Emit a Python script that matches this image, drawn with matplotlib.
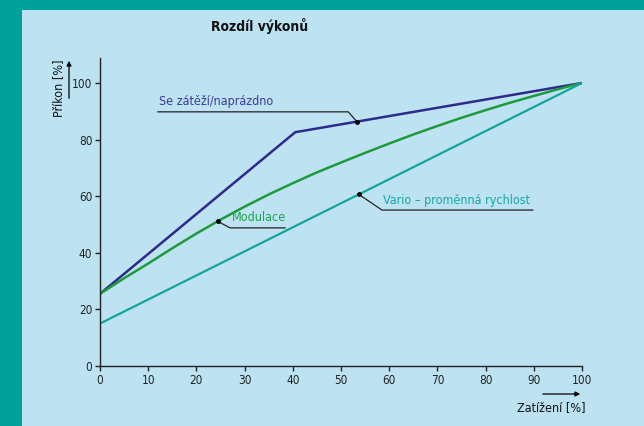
import matplotlib
matplotlib.use('Agg')
import matplotlib.pyplot as plt
import numpy as np
from matplotlib.patches import Rectangle

plt.rcParams['font.family'] = ['DejaVu Sans']
plt.rcParams['font.stretch'] = 'condensed'

# data
load = [0, 5, 10, 15, 20, 25, 30, 35, 40, 45, 50,
        55, 60, 65, 70, 75, 80, 85, 90, 95, 100]
x_ticks = [0, 10, 20, 30, 40, 50, 60, 70, 80, 90, 100]
y_ticks = [0, 20, 40, 60, 80, 100]

onoff_x = [0, 40.5, 100]
onoff_y = [25.5, 82.6, 100]
modul_y = [25.5, 31.0, 36.2, 41.6, 46.8, 51.7, 56.3, 60.6, 64.6, 68.4, 71.9,
           75.3, 78.6, 81.8, 84.8, 87.7, 90.4, 93.0, 95.4, 97.8, 100]
vario_x = [0, 100]
vario_y = [15, 100]

labels = ['Se zátěží/naprázdno', 'Modulace', 'Vario – proměnná rychlost']

TEAL_BG = '#00a19a'
PANEL = '#bde3f2'
C_ONOFF = '#2e2a8c'
C_MOD = '#1e9a3c'
C_VAR = '#13a69c'
T_ONOFF = '#3d3a98'
T_MOD = '#22a34c'
T_VAR = '#14a8a0'

fig = plt.figure(figsize=(6.44, 4.26), dpi=100, facecolor=TEAL_BG)
fig.patches.append(Rectangle((22 / 644, 0), 1, 1 - 10 / 426,
                             transform=fig.transFigure, facecolor=PANEL,
                             edgecolor='none', zorder=-10))

ax = fig.add_axes([100 / 644, 1 - 366 / 426, 482 / 644, 308.5 / 426])
ax.set_zorder(2)
ax.set_facecolor('none')
ax.set_xlim(0, 100)
ax.set_ylim(0, 109)
for s in ['top', 'right']:
    ax.spines[s].set_visible(False)
for s in ['left', 'bottom']:
    ax.spines[s].set_color('#222222')
    ax.spines[s].set_linewidth(1.0)
ax.set_xticks(x_ticks)
ax.set_yticks(y_ticks)
ax.tick_params(length=3.5, width=1.0, color='#222222', labelsize=8.5,
               labelcolor='#222222', pad=2)

ax.plot(onoff_x, onoff_y, color=C_ONOFF, lw=1.8, solid_joinstyle='miter')
ax.plot(load, modul_y, color=C_MOD, lw=1.8)
ax.plot(vario_x, vario_y, color=C_VAR, lw=1.6)


# leaders: point on curve -> elbow -> underline end, text above underline
def leader(px, xs, ys, elbow, end, text, color):
    py = np.interp(px, xs, ys)
    ex, ey = elbow
    ax.plot([px, ex, end], [py, ey, ey], color='#222222', lw=0.9,
            clip_on=False, zorder=3)
    ax.plot([px], [py], 'o', color='black', ms=2.5, zorder=4)
    tx = min(ex, end)
    ax.text(tx + 0.3, ey + 1.2, text, color=color, fontsize=9,
            ha='left', va='bottom')


leader(53.3, onoff_x, onoff_y, (51.5, 89.8), 12.0, labels[0], T_ONOFF)
leader(24.4, load, modul_y, (27.0, 48.8), 38.4, labels[1], T_MOD)
leader(53.7, vario_x, vario_y, (58.5, 55.1), 89.8, labels[2], T_VAR)

fig.text(260 / 644, 1 - 26 / 426, 'Rozdíl výkonů', fontsize=10,
         fontweight='bold', ha='center', va='center', color='#111111')

# axis labels with arrows
fig.text(59 / 644, 1 - 88 / 426, 'Příkon [%]', rotation=90, fontsize=9,
         ha='center', va='center', color='#111111')
ax.annotate('', xy=(69 / 644, 1 - 58 / 426), xytext=(69 / 644, 1 - 101 / 426),
            xycoords='figure fraction',
            arrowprops=dict(arrowstyle='-|>', color='black', lw=0.9,
                            mutation_scale=7))
fig.text(551 / 644, 1 - 408 / 426, 'Zatížení [%]', fontsize=9,
         ha='center', va='center', color='#111111')
ax.annotate('', xy=(583 / 644, 1 - 394 / 426), xytext=(540 / 644, 1 - 394 / 426),
            xycoords='figure fraction',
            arrowprops=dict(arrowstyle='-|>', color='black', lw=0.9,
                            mutation_scale=7))

fig.savefig('out.png', dpi=100, facecolor=fig.get_facecolor())
